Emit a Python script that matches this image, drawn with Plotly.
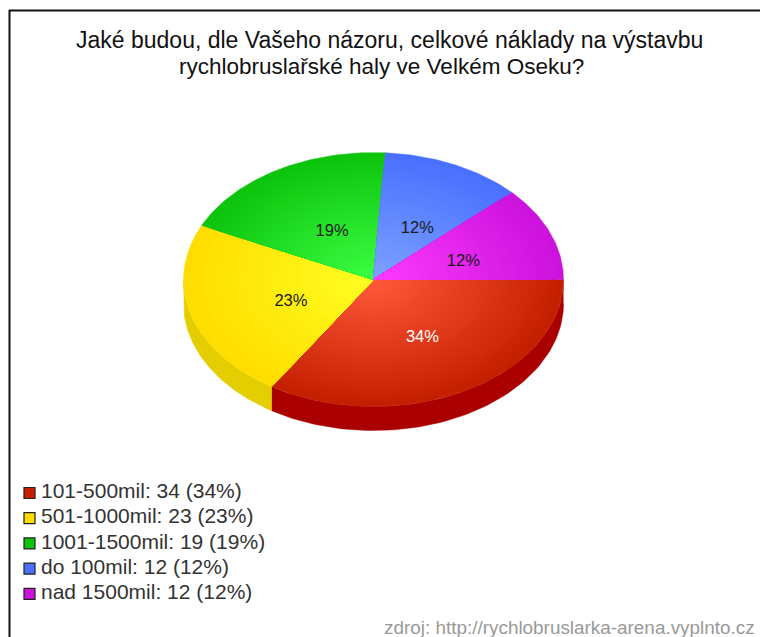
import numpy as np
import plotly.graph_objects as go

categories = ["101-500mil", "501-1000mil", "1001-1500mil", "do 100mil", "nad 1500mil"]
values = [34, 23, 19, 12, 12]
inner_colors = ["#FF5A3C", "#FFFF22", "#3CFF44", "#7DA3FF", "#FF3CFF"]
outer_colors = ["#C42000", "#FFDD00", "#0DC40D", "#4A70FF", "#CC12DD"]
side_colors = ["#AA0000", "#E4CE00", "#0A8A0A", "#3450B0", "#900C9C"]
swatch_colors = ["#C42000", "#FFDD00", "#0DC40D", "#4A70FF", "#CC12DD"]
label_colors = ["white", "#1a1a1a", "#1a1a1a", "#1a1a1a", "#1a1a1a"]
title_lines = ["Jaké budou, dle Vašeho názoru, celkové náklady na výstavbu",
               "rychlobruslařské haly ve Velkém Oseku?"]
source_text = "zdroj: http://rychlobruslarka-arena.vyplnto.cz"

W, H = 760, 637
CX, CY, RX, RY, DEPTH = 373.5, 279.5, 190, 127, 24
BANDS = 28
FONT = "Liberation Sans"


def mix(a, b, t):
    ca = [int(a[i:i + 2], 16) for i in (1, 3, 5)]
    cb = [int(b[i:i + 2], 16) for i in (1, 3, 5)]
    return "rgb(%d,%d,%d)" % tuple(round(p + (q - p) * t) for p, q in zip(ca, cb))


total = sum(values)
edges = np.cumsum([0] + values) / total * 2 * np.pi
fig = go.Figure()

# side wall (only the front half of the ellipse is visible)
for i, cat in enumerate(categories):
    a0, a1 = edges[i], min(edges[i + 1], np.pi)
    if a0 >= np.pi:
        continue
    t = np.linspace(a0, a1, 80)
    x = CX + RX * np.cos(t)
    y = CY + RY * np.sin(t)
    fig.add_trace(go.Scatter(
        x=np.r_[x, x[::-1]], y=np.r_[y, y[::-1] + DEPTH],
        mode="lines", fill="toself", fillcolor=side_colors[i],
        line=dict(color=side_colors[i], width=0.5), hoverinfo="skip", showlegend=False))

# top surface: each slice as nested wedges to produce a radial shading
for i, cat in enumerate(categories):
    t = np.linspace(edges[i], edges[i + 1], max(20, int(values[i] * 4)))
    for b in range(BANDS):
        f = 1 - b / BANDS
        c = mix(inner_colors[i], outer_colors[i], f)
        x = np.r_[CX, CX + RX * f * np.cos(t), CX]
        y = np.r_[CY, CY + RY * f * np.sin(t), CY]
        fig.add_trace(go.Scatter(
            x=x, y=y, mode="lines", fill="toself", fillcolor=c,
            line=dict(color=c, width=0.4), hoverinfo="skip", showlegend=False,
            name=cat))

# percentage labels on slices
mids = (edges[:-1] + edges[1:]) / 2
fig.add_trace(go.Scatter(
    x=CX + 0.48 * RX * np.cos(mids) + 5, y=CY + 0.48 * RY * np.sin(mids) + 5,
    mode="text", text=[f"{v}%" for v in values], textposition="middle center",
    textfont=dict(family=FONT, size=16.5, color=label_colors),
    hoverinfo="skip", showlegend=False))

# legend rows
row_y = 493 + np.arange(len(categories)) * 25.2
fig.add_trace(go.Scatter(
    x=[29.5] * len(categories), y=row_y, mode="markers",
    marker=dict(symbol="square", size=11, color=swatch_colors,
                line=dict(color="#222222", width=1.2)),
    hoverinfo="skip", showlegend=False))
fig.add_trace(go.Scatter(
    x=[41] * len(categories), y=row_y, mode="text",
    text=[f"{c}: {v} ({v}%)" for c, v in zip(categories, values)],
    textposition="middle right",
    textfont=dict(family=FONT, size=21, color="#333333"),
    hoverinfo="skip", showlegend=False))

annotations = [
    dict(x=389.5, y=39.5, text=title_lines[0], showarrow=False, xanchor="center", yanchor="middle",
         font=dict(family=FONT, size=23, color="#111111")),
    dict(x=381.5, y=66.5, text=title_lines[1], showarrow=False, xanchor="center", yanchor="middle",
         font=dict(family=FONT, size=22.5, color="#111111")),
    dict(x=757, y=627, text=source_text, showarrow=False, xanchor="right", yanchor="middle",
         font=dict(family=FONT, size=18.9, color="#999999")),
]
for a in annotations:
    a.update(xref="x", yref="y")

fig.update_layout(
    width=W, height=H, margin=dict(l=0, r=0, t=0, b=0),
    paper_bgcolor="white", plot_bgcolor="white", showlegend=False,
    xaxis=dict(range=[0, W], visible=False, fixedrange=True),
    yaxis=dict(range=[H, 0], visible=False, fixedrange=True),
    annotations=annotations,
    shapes=[
        dict(type="line", x0=9.5, x1=9.5, y0=10, y1=H, line=dict(color="#111111", width=2)),
        dict(type="line", x0=9, x1=W, y0=10.5, y1=10.5, line=dict(color="#111111", width=2)),
    ],
)
fig.write_html("out.html", config={"displayModeBar": False},
               post_script="document.body.style.margin='0';document.body.style.overflow='hidden';")
